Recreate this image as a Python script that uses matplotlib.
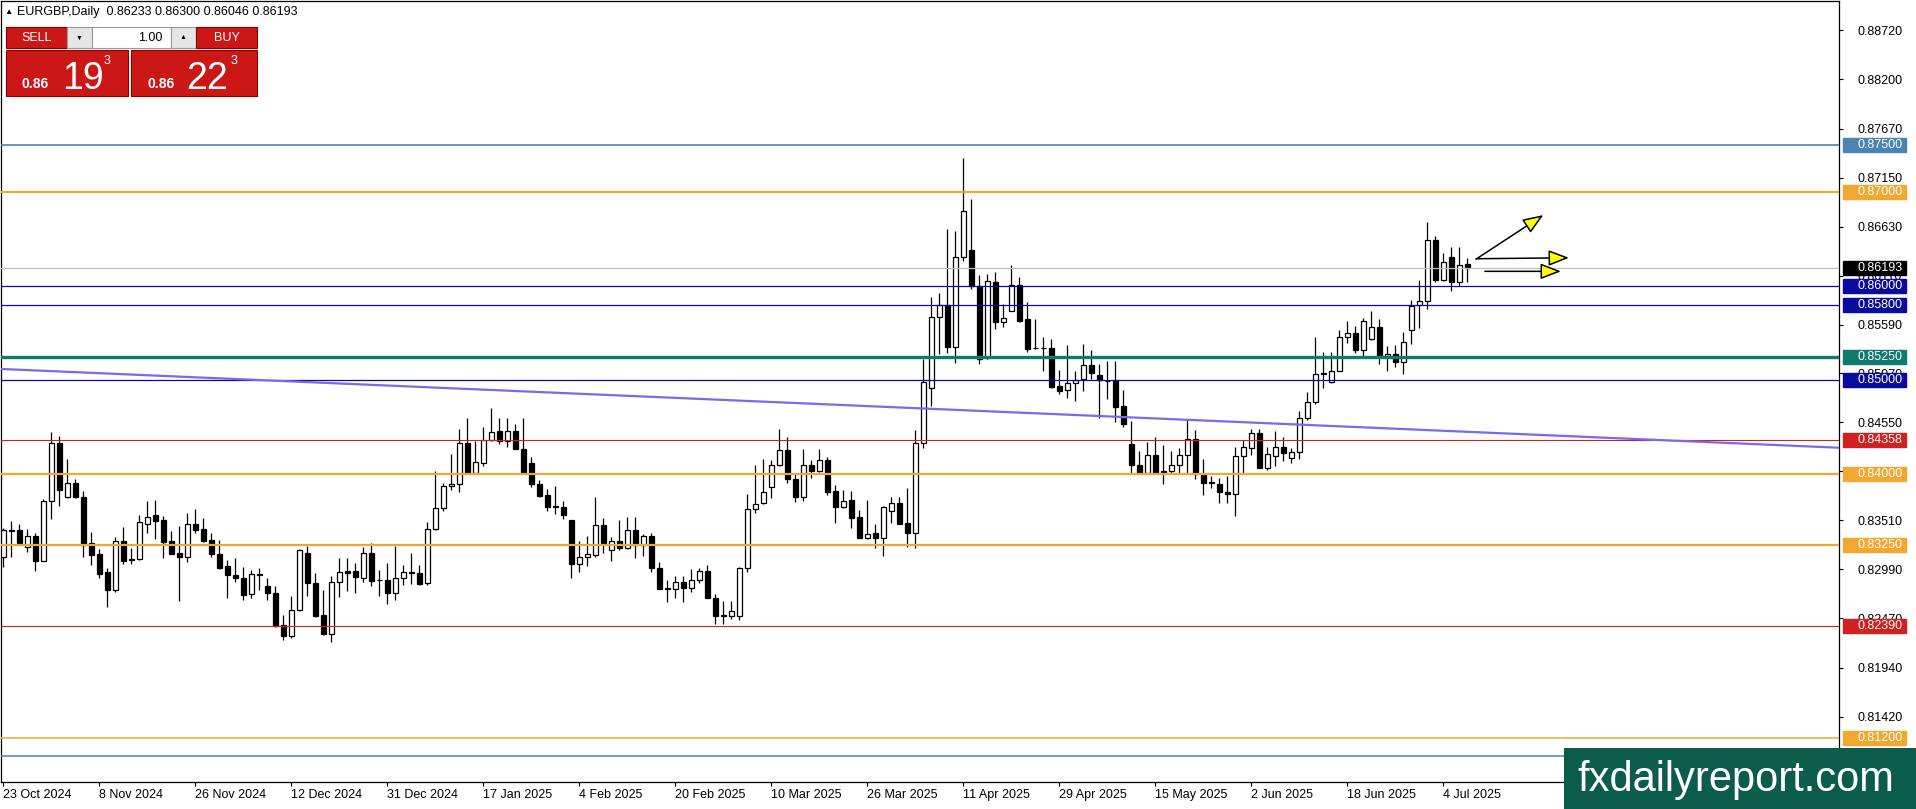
import matplotlib
matplotlib.use("Agg")
import matplotlib.pyplot as plt
import numpy as np
import pandas as pd
from matplotlib.patches import Rectangle
from matplotlib.transforms import blended_transform_factory

plt.rcParams['font.family'] = ['Liberation Sans', 'DejaVu Sans']

# ---------------- data (EURGBP daily OHLC) ----------------
opens = [0.83123,0.83400,0.83405,0.83222,0.83338,0.83081,0.83711,0.84334,0.83757,0.83908,
         0.83757,0.83264,0.83148,0.82958,0.82764,0.83292,0.83095,0.83095,0.83465,0.83563,
         0.83510,0.83285,0.83162,0.83123,0.83465,0.83415,0.83300,0.83151,0.83025,0.82930,
         0.82898,0.82725,0.82940,0.82813,0.82736,0.82395,0.82278,0.82553,0.83158,0.82842,
         0.82507,0.82303,0.82852,0.82968,0.82968,0.82894,0.83158,0.82877,0.82873,0.82736,
         0.82894,0.82961,0.82947,0.82842,0.83422,0.83644,0.83877,0.83898,0.84331,0.84010,
         0.84119,0.84362,0.84454,0.84356,0.84461,0.84272,0.84115,0.83894,0.83779,0.83656,
         0.83649,0.83509,0.83043,0.83117,0.83141,0.83463,0.83194,0.83292,0.83211,0.83404,
         0.83250,0.83337,0.83001,0.82781,0.82781,0.82854,0.82792,0.82872,0.82970,0.82686,
         0.82494,0.82487,0.82494,0.82998,0.83626,0.83689,0.83867,0.84097,0.84253,0.83945,
         0.83753,0.84097,0.84037,0.84147,0.83820,0.83647,0.83725,0.83540,0.83324,0.83370,
         0.83317,0.83611,0.83689,0.83477,0.83378,0.84327,0.84912,0.85674,0.85794,0.85355,
         0.86312,0.86383,0.86004,0.85232,0.86042,0.85620,0.85732,0.86014,0.85644,0.85339,
         0.85345,0.85345,0.84940,0.84894,0.84965,0.85011,0.85158,0.85059,0.84991,0.84998,
         0.84720,0.84321,0.84096,0.84007,0.84207,0.84036,0.84029,0.84096,0.84207,0.84374,
         0.84000,0.83911,0.83900,0.83815,0.83794,0.84195,0.84274,0.84433,0.84067,0.84195,
         0.84291,0.84167,0.84231,0.84593,0.84764,0.85066,0.84984,0.85101,0.85456,0.85499,
         0.85321,0.85435,0.85563,0.85257,0.85282,0.85190,0.85534,0.85797,0.85836,0.86494,
         0.86061,0.86310,0.86043,0.86233]
highs = [0.83423,0.83500,0.83475,0.83412,0.83377,0.83736,0.84450,0.84408,0.84162,0.83950,
         0.83824,0.83380,0.83200,0.83000,0.83327,0.83433,0.83215,0.83570,0.83711,0.83729,
         0.83553,0.83394,0.83447,0.83591,0.83627,0.83532,0.83370,0.83300,0.83088,0.83110,
         0.83018,0.82982,0.83000,0.82894,0.82813,0.82507,0.82708,0.83200,0.83239,0.82947,
         0.82771,0.82912,0.83106,0.83106,0.83060,0.83229,0.83264,0.82982,0.83053,0.83239,
         0.83035,0.83158,0.83035,0.83493,0.84031,0.83905,0.84214,0.84478,0.84595,0.84355,
         0.84503,0.84707,0.84594,0.84594,0.84531,0.84594,0.84181,0.83936,0.83842,0.83877,
         0.83719,0.83515,0.83288,0.83341,0.83761,0.83533,0.83334,0.83509,0.83544,0.83544,
         0.83362,0.83376,0.83071,0.82872,0.82914,0.82914,0.82995,0.82998,0.83037,0.82728,
         0.82652,0.82652,0.83016,0.83789,0.84097,0.84157,0.84150,0.84480,0.84398,0.84016,
         0.84264,0.84150,0.84264,0.84186,0.83884,0.83831,0.83820,0.83619,0.83725,0.83470,
         0.83661,0.83760,0.83760,0.83849,0.84469,0.85224,0.85887,0.85922,0.86606,0.86585,
         0.87357,0.86925,0.86119,0.86130,0.86148,0.85810,0.86225,0.86095,0.85827,0.85644,
         0.85461,0.85433,0.85106,0.85370,0.85099,0.85387,0.85317,0.85176,0.85201,0.85201,
         0.84898,0.84560,0.84250,0.84339,0.84392,0.84310,0.84250,0.84275,0.84578,0.84471,
         0.84160,0.83982,0.83957,0.83982,0.84291,0.84362,0.84476,0.84476,0.84291,0.84458,
         0.84398,0.84274,0.84671,0.84870,0.85453,0.85297,0.85297,0.85535,0.85630,0.85570,
         0.85659,0.85737,0.85652,0.85364,0.85375,0.85506,0.85854,0.86061,0.86682,0.86529,
         0.86352,0.86415,0.86415,0.86300]
lows = [0.83018,0.83123,0.83257,0.83176,0.82965,0.83075,0.83518,0.83662,0.83750,0.83750,
        0.83123,0.83035,0.82901,0.82585,0.82747,0.83046,0.83042,0.83090,0.83370,0.83306,
        0.83113,0.83150,0.82655,0.83070,0.83373,0.83278,0.83123,0.82990,0.82683,0.82849,
        0.82666,0.82683,0.82771,0.82666,0.82377,0.82236,0.82261,0.82543,0.82708,0.82479,
        0.82289,0.82215,0.82690,0.82754,0.82736,0.82849,0.82813,0.82701,0.82620,0.82659,
        0.82824,0.82831,0.82824,0.82824,0.83405,0.83609,0.83827,0.83810,0.84000,0.84005,
        0.84091,0.84350,0.84321,0.84286,0.84262,0.83999,0.83866,0.83761,0.83607,0.83579,
        0.83527,0.82893,0.82956,0.83019,0.83124,0.83166,0.83078,0.83194,0.83201,0.83113,
        0.83134,0.82956,0.82774,0.82644,0.82686,0.82641,0.82746,0.82844,0.82686,0.82406,
        0.82406,0.82459,0.82450,0.82963,0.83583,0.83682,0.83750,0.84086,0.83902,0.83707,
        0.83718,0.83962,0.84026,0.83778,0.83484,0.83636,0.83431,0.83317,0.83307,0.83211,
        0.83130,0.83477,0.83466,0.83229,0.83211,0.84281,0.84724,0.85274,0.85291,0.85178,
        0.86266,0.85965,0.85169,0.85225,0.85546,0.85563,0.85730,0.85616,0.85299,0.85327,
        0.85099,0.84912,0.84852,0.84806,0.84782,0.84887,0.85011,0.84599,0.84802,0.84553,
        0.84499,0.84007,0.84000,0.84000,0.84000,0.83900,0.84000,0.84007,0.84007,0.83947,
        0.83775,0.83850,0.83697,0.83697,0.83560,0.84000,0.84202,0.84060,0.84043,0.84085,
        0.84142,0.84121,0.84156,0.84575,0.84746,0.84913,0.84966,0.85101,0.85392,0.85293,
        0.85257,0.85421,0.85172,0.85101,0.85144,0.85062,0.85382,0.85552,0.85755,0.86039,
        0.86050,0.85950,0.86004,0.86046]
closes = [0.83405,0.83410,0.83271,0.83338,0.83081,0.83711,0.84334,0.83834,0.83908,0.83757,
          0.83250,0.83144,0.82933,0.82764,0.83292,0.83081,0.83085,0.83496,0.83546,0.83503,
          0.83282,0.83155,0.83116,0.83465,0.83408,0.83289,0.83155,0.83007,0.82923,0.82898,
          0.82711,0.82940,0.82929,0.82736,0.82384,0.82278,0.82557,0.83190,0.82842,0.82497,
          0.82296,0.82852,0.82958,0.82954,0.82905,0.83158,0.82859,0.82870,0.82736,0.82894,
          0.82958,0.82950,0.82835,0.83422,0.83644,0.83873,0.83898,0.84331,0.84010,0.84126,
          0.84362,0.84443,0.84356,0.84461,0.84269,0.84013,0.83894,0.83772,0.83649,0.83653,
          0.83569,0.83043,0.83120,0.83148,0.83463,0.83264,0.83292,0.83211,0.83404,0.83250,
          0.83337,0.82998,0.82781,0.82785,0.82854,0.82788,0.82872,0.82970,0.82686,0.82487,
          0.82498,0.82540,0.83000,0.83626,0.83679,0.83806,0.84097,0.84253,0.83945,0.83753,
          0.84097,0.84037,0.84147,0.83813,0.83647,0.83714,0.83537,0.83324,0.83367,0.83317,
          0.83647,0.83689,0.83466,0.83378,0.84327,0.84976,0.85674,0.85794,0.85355,0.86312,
          0.86797,0.86004,0.85224,0.86049,0.85620,0.85662,0.86014,0.85627,0.85334,0.85345,
          0.85340,0.84930,0.84887,0.84965,0.85000,0.85158,0.85070,0.84998,0.84995,0.84713,
          0.84528,0.84096,0.84007,0.84207,0.84007,0.84007,0.84096,0.84207,0.84374,0.84000,
          0.83911,0.83915,0.83815,0.83786,0.84195,0.84291,0.84433,0.84067,0.84210,0.84291,
          0.84220,0.84238,0.84593,0.84764,0.85066,0.85070,0.85101,0.85456,0.85499,0.85321,
          0.85623,0.85563,0.85257,0.85282,0.85197,0.85400,0.85790,0.85836,0.86494,0.86061,
          0.86256,0.86040,0.86220,0.86193]

dates = pd.bdate_range('2024-10-23', '2025-07-09', freq='C',
                       holidays=['2024-12-25', '2025-01-01'])
date_label_step = 12

# horizontal levels drawn on chart
levels = [0.87500, 0.87000, 0.86000, 0.85800, 0.85250, 0.85000,
          0.84358, 0.84000, 0.83250, 0.82390, 0.81200, 0.81000]
level_colors = ['#4A84B4', '#F0A830', '#0A0A9C', '#0A0A9C', '#0E7A70', '#0A0A9C',
                '#D02020', '#F0A830', '#F0A830', '#D02020', '#F0A830', '#4A84B4']
level_widths = [1.2, 1.6, 0.9, 0.9, 2.4, 0.9, 0.8, 1.6, 1.6, 0.8, 1.1, 1.1]
level_labeled = [True]*11 + [False]

bid_price = 0.86193
header = "EURGBP,Daily  0.86233 0.86300 0.86046 0.86193"

# right price-scale tick labels
right_ticks = [0.88720, 0.88200, 0.87670, 0.87150, 0.86630, 0.86110, 0.85590,
               0.85070, 0.84550, 0.84030, 0.83510, 0.82990, 0.82470, 0.81940, 0.81420]

# trend line anchors (bar index, price) - extended as a ray
trend_p1 = (0, 0.85117)
trend_p2 = (183, 0.84450)

# yellow arrows (bar index, price)
arrow_starts = [(184.1, 0.86286), (184.1, 0.86290), (185.2, 0.86156)]
arrow_ends = [(192.5, 0.86754), (195.7, 0.86300), (194.7, 0.86156)]

# ---------------- figure ----------------
W, H = 1916, 809
fig = plt.figure(figsize=(W/100, H/100), dpi=100)
fig.patch.set_facecolor('white')

ax_left_px, ax_right_px, ax_top_px, ax_bot_px = 1, 1839, 1, 782
ax = fig.add_axes([ax_left_px/W, (H-ax_bot_px)/H,
                   (ax_right_px-ax_left_px)/W, (ax_bot_px-ax_top_px)/H])
bar_px, bar0_px = 8.0, 3.3
ax.set_xlim((ax_left_px-bar0_px)/bar_px, (ax_right_px-bar0_px)/bar_px)
ax.set_ylim(0.80727, 0.89030)
ax.set_facecolor('white')
for s in ax.spines.values():
    s.set_color('black'); s.set_linewidth(0.9)

n = len(opens)
idx = np.arange(n)
o = np.array(opens); c = np.array(closes); hi = np.array(highs); lo = np.array(lows)
bull = c >= o
ax.vlines(idx, lo, hi, color='black', linewidth=0.9, zorder=2)
ax.bar(idx, np.abs(c-o), bottom=np.minimum(o, c), width=0.62,
       color=np.where(bull, 'white', 'black'), edgecolor='black',
       linewidth=0.9, zorder=3)

# levels
for lv, col, lw in zip(levels, level_colors, level_widths):
    ax.axhline(lv, color=col, linewidth=lw, zorder=4)
ax.axhline(bid_price, color='#C0C0C0', linewidth=0.9, zorder=3.5)

# trend line
ax.axline(trend_p1, trend_p2, color='#7B68EE', linewidth=1.6, zorder=4)

# arrows
for (x0, y0), (x1, y1) in zip(arrow_starts, arrow_ends):
    ax.annotate('', xy=(x1, y1), xytext=(x0, y0),
                arrowprops=dict(arrowstyle='-|>,head_length=0.9,head_width=0.35',
                                fc='#FFFF00', ec='black', lw=1.1,
                                shrinkA=0, shrinkB=0, mutation_scale=14),
                zorder=6)

# right axis
ax.yaxis.tick_right()
ax.set_yticks(right_ticks)
ax.set_yticklabels([f"{t:.5f}" for t in right_ticks])
ax.tick_params(axis='y', direction='out', length=3, pad=10, labelsize=9,
               colors='black', width=0.8)

# bottom dates
tick_idx = idx[::date_label_step]
ax.set_xticks(tick_idx)
ax.set_xticklabels([f"{d.day} {d.strftime('%b %Y')}" for d in dates[tick_idx]])
for lbl in ax.get_xticklabels():
    lbl.set_horizontalalignment('left')
ax.tick_params(axis='x', direction='out', length=3, pad=2, labelsize=9, width=0.8)

# price labels on right scale
tr = blended_transform_factory(ax.transAxes, ax.transData)
axw = ax_right_px - ax_left_px
ppx = (ax.get_ylim()[1]-ax.get_ylim()[0])/(ax_bot_px-ax_top_px)
box_h = 14*ppx
bx0 = (1843-ax_left_px)/axw
bw = 63/axw
tx = (1857-ax_left_px)/axw
label_items = [(lv, col) for lv, col, lab in zip(levels, level_colors, level_labeled) if lab]
label_items.append((bid_price, 'black'))
for lv, col in label_items:
    ax.add_patch(Rectangle((bx0, lv-box_h/2), bw, box_h, transform=tr,
                           facecolor=col, edgecolor=col, clip_on=False, zorder=7))
    ax.text(tx, lv, f"{lv:.5f}", transform=tr, color='white', fontsize=9,
            va='center', ha='left', clip_on=False, zorder=8)

# ---------------- overlay (header, trade panel, watermark) ----------------
ov = fig.add_axes([0, 0, 1, 1], zorder=10)
ov.set_xlim(0, W); ov.set_ylim(H, 0); ov.axis('off')
ov.patch.set_alpha(0)

ov.text(4, 12, '▲', fontsize=6, va='center', ha='left', color='black')
ov.text(17, 12, header, fontsize=9, va='center', ha='left', color='black')

red = '#CC1717'
def box(x0, y0, x1, y1, fc, ec):
    ov.add_patch(Rectangle((x0, y0), x1-x0, y1-y0, facecolor=fc, edgecolor=ec, linewidth=0.8))

box(6, 27, 67, 48, red, '#8A0000')
ov.text(36.5, 37.5, 'SELL', color='white', fontsize=9, ha='center', va='center')
box(67, 27, 92, 48, '#E6E6E6', '#9A9A9A')
ov.text(79.5, 38, '▼', color='black', fontsize=5, ha='center', va='center')
box(92, 27, 171, 48, 'white', '#9A9A9A')
ov.text(150, 37.5, '1.00', color='black', fontsize=9, ha='center', va='center')
box(171, 27, 196, 48, '#E6E6E6', '#9A9A9A')
ov.text(183.5, 37, '▲', color='black', fontsize=5, ha='center', va='center')
box(196, 27, 257, 48, red, '#8A0000')
ov.text(226.5, 37.5, 'BUY', color='white', fontsize=9, ha='center', va='center')

box(6, 50, 128, 96, red, '#8A0000')
box(131, 50, 257, 96, red, '#8A0000')
for x_small, x_big, x_sup, big in [(22, 62, 104, '19'), (148, 186, 231, '22')]:
    ov.text(x_small, 88, '0.86', color='white', fontsize=10, fontweight='bold',
            ha='left', va='baseline')
    ov.text(x_big, 89, big, color='white', fontsize=27, ha='left', va='baseline')
    ov.text(x_sup, 61, '3', color='white', fontsize=9, ha='left', va='center')

ov.add_patch(Rectangle((1564, 748), W-1564, H-748, facecolor='#0C5C4C', edgecolor='none'))
ov.text(1577, 780, 'fxdailyreport.com', color='white', fontsize=30,
        ha='left', va='center')

fig.savefig('out.png', dpi=100)
